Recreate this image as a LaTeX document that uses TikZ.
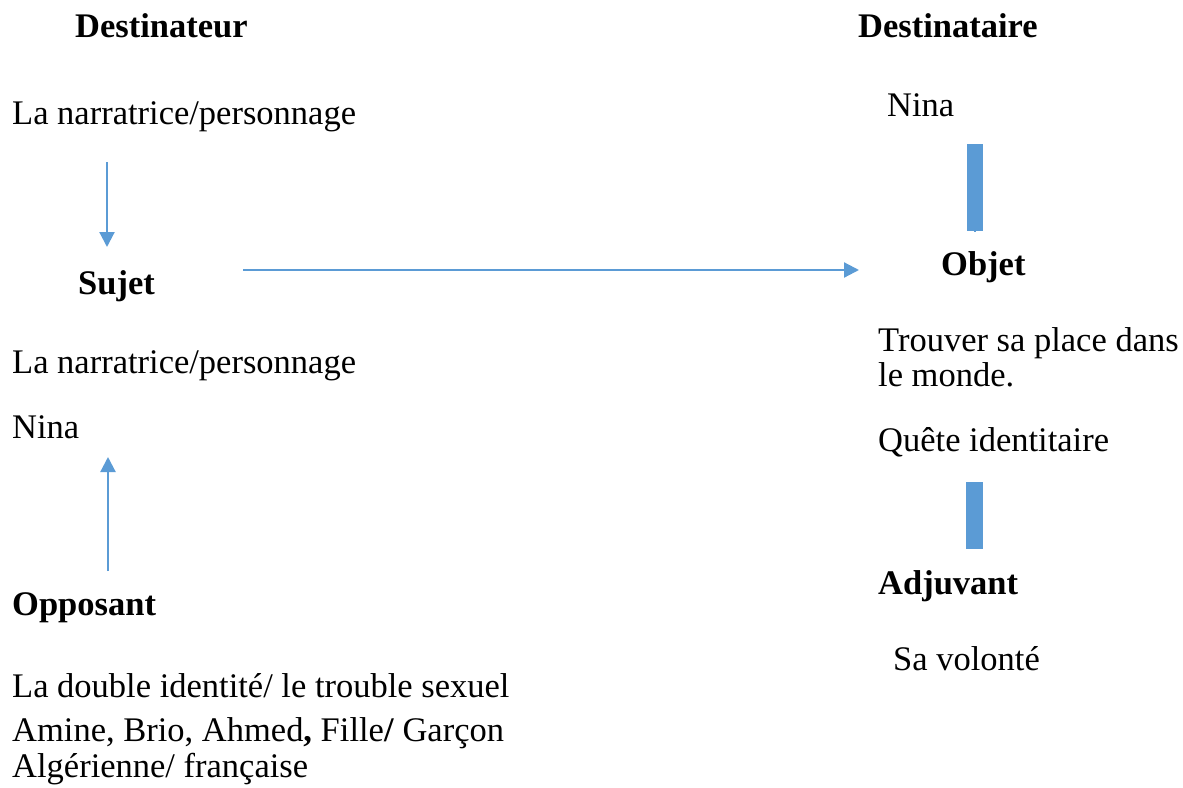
\documentclass[tikz,border=0pt]{standalone}
\usepackage{fontspec}
\setmainfont{Liberation Serif}
\usetikzlibrary{arrows.meta}
\definecolor{ablue}{HTML}{5B9BD5}
\tikzset{
  txt/.style={anchor=base west, inner sep=0pt, font=\fontsize{34.5}{40}\selectfont},
  btxt/.style={txt, font=\fontsize{34.5}{40}\selectfont\bfseries},
  arr/.style={draw=ablue, line width=2.2pt, -{Triangle[width=15pt,length=15pt]}},
  bar/.style={fill=ablue, draw=none}
}
\begin{document}
\begin{tikzpicture}[x=1pt,y=-1pt]
\useasboundingbox (0,0) rectangle (1183,787);
\node[btxt] (dest) at (75,37) {Destinateur};
\node[btxt] (desta) at (858,37) {Destinataire};
\node[txt] (narr1) at (12,124) {La narratrice/personnage};
\node[txt] (nina1) at (887,116) {Nina};
\node[btxt] (sujet) at (78,294) {Sujet};
\node[btxt] (objet) at (941,275) {Objet};
\node[txt] (narr2) at (12,373) {La narratrice/personnage};
\node[txt] (nina2) at (12,438) {Nina};
\node[btxt] (opp) at (12,615) {Opposant};
\node[txt] (l1) at (12,697) {La double identité/ le trouble sexuel};
\node[txt] (l2) at (12,741) {Amine, Brio, Ahmed\textbf{,} Fille\textbf{/} Garçon};
\node[txt] (l3) at (12,777) {Algérienne/ française};
\node[txt] (t1) at (878,351) {Trouver sa place dans};
\node[txt] (t2) at (878,386) {le monde.};
\node[txt] (q) at (878,451) {Quête identitaire};
\node[btxt] (adj) at (878,594) {Adjuvant};
\node[txt] (vol) at (893,670) {Sa volonté};
\coordinate (a1s) at (107,162);
\coordinate (a1e) at (107,247);
\coordinate (a2s) at (243,270);
\coordinate (a2e) at (859,270);
\coordinate (a3s) at (108,571);
\coordinate (a3e) at (108,457);
\draw[arr] (a1s) -- (a1e);
\draw[arr] (a2s) -- (a2e);
\draw[arr] (a3s) -- (a3e);
\fill[bar] (967,144) rectangle (983,231);
\fill[ablue] (974,231) rectangle (976,232);
\fill[bar] (966,482) rectangle (983,549);
\end{tikzpicture}
\end{document}
